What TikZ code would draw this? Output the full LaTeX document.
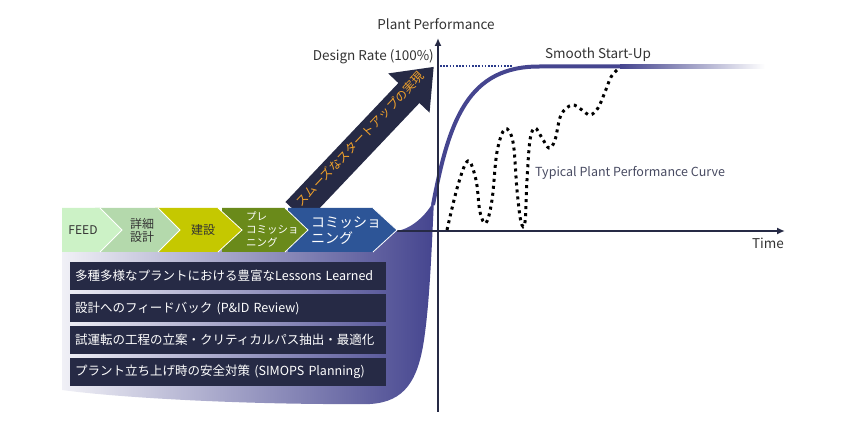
\documentclass[tikz,border=0pt]{standalone}
\usepackage{fontspec}
\setmainfont{Noto Sans CJK JP}
\usetikzlibrary{positioning,arrows.meta}
\definecolor{navy}{HTML}{262A45}
\definecolor{curveblue}{HTML}{45458F}
\definecolor{feedc}{HTML}{CCF2C6}
\definecolor{detailc}{HTML}{B4D9AC}
\definecolor{buildc}{HTML}{C5C800}
\definecolor{precomc}{HTML}{6A8A1A}
\definecolor{comc}{HTML}{2D5597}
\definecolor{arrowtxt}{HTML}{F2A22A}
\definecolor{labelc}{HTML}{333333}
\definecolor{dotblue}{HTML}{2A3A8A}
\tikzset{
  axisline/.style={navy,line width=1.8pt,-{Latex[length=8pt,width=7pt]}},
  phaseedge/.style={white,line width=0.8pt},
  phasetext/.style={font=\fontsize{12}{13}\selectfont,align=center,inner sep=0pt},
  lessonbox/.style={rectangle,fill=navy,text=white,anchor=north west,text width=306pt,inner xsep=5pt,inner ysep=0pt,minimum height=28pt,align=left,font=\fontsize{12.5}{14}\selectfont},
  plotlabel/.style={text=labelc,font=\fontsize{13.5}{15}\selectfont,inner sep=0pt}
}
\newcommand{\phasechev}[4]{%
  \fill[#4] (#1,208) -- (#2,208) -- (#3,230) -- (#2,252) -- (#1,252) -- cycle;
  \draw[phaseedge] (#2,208) -- (#3,230) -- (#2,252);}
\begin{document}
\begin{tikzpicture}[x=1pt,y=-1pt]
	\useasboundingbox (0,0) rectangle (847,430);
	\shade[left color=white!92!curveblue,middle color=curveblue!45,right color=curveblue] (62,230) -- (62,390) .. controls (120,398) and (250,405) .. (370,404) .. controls (405,402) and (418,380) .. (424,340) .. controls (430,300) and (432,240) .. (434,200) .. controls (430,210) and (415,228) .. (397,231) -- cycle;
	\draw[curveblue,line width=4pt] (433,205) .. controls (449,120) and (468,66) .. (540,66.5) -- (620,66.5);
	\shade[left color=curveblue,right color=white] (620,64.5) rectangle (765,68.5);
	\coordinate (ybot) at (438,412);
	\coordinate (ytop) at (438,38);
	\coordinate (xleft) at (397,231);
	\coordinate (xright) at (785,231);
	\draw[axisline] (ybot) -- (ytop);
	\draw[axisline] (xleft) -- (xright);
	\coordinate (rate) at (440,66);
	\coordinate (rateend) at (512,66);
	\draw[dotblue,line width=1.6pt,dash pattern=on 1.6pt off 1.6pt] (rate) -- (rateend);
	\draw[black,line width=3pt,dash pattern=on 3pt off 4pt] plot[smooth,tension=0.6] coordinates {(447,230) (458,185) (468,161) (476,180) (480,212) (486,223) (492,200) (497,152) (505,129) (513,142) (517,190) (521,222) (525,222) (527,180) (530,140) (535,128) (542,138) (549,148) (555,140) (561,115) (572,105) (582,110) (590,115) (598,108) (605,92) (611,77) (617,70)};
	\node[plotlabel] (yname) at (436,24) {Plant Performance};
	\node[plotlabel,anchor=east] (design) at (434,57) {Design Rate (100\%)};
	\node[plotlabel] (smooth) at (598,55) {Smooth Start-Up};
	\node[plotlabel,anchor=west,text=navy!85,font=\fontsize{12.5}{14}\selectfont] (typical) at (535,173) {Typical Plant Performance Curve};
	\node[plotlabel] (time) at (768,243) {Time};
	\begin{scope}[shift={(296,212)},rotate=46.5]
		\fill[navy] (0,-14.5) -- (164,-14.5) -- (164,-28.5) -- (200,0) -- (164,28.5) -- (164,14.5) -- (0,14.5) -- cycle;
	\end{scope}
	\node[rotate=46.5,text=arrowtxt,font=\fontsize{12}{12}\selectfont,inner sep=0pt] (smoothjp) at (360,139) {スムーズなスタートアップの実現};
	\phasechev{288}{373}{397}{comc}
	\phasechev{222}{285}{308}{precomc}
	\phasechev{155}{218}{242}{buildc}
	\phasechev{95}{158}{180}{detailc}
	\phasechev{62}{100}{122}{feedc}
	\node[phasetext,text=labelc] (feed) at (83,230) {FEED};
	\node[phasetext,text=labelc] (detail) at (142,230) {詳細\\設計};
	\node[phasetext,text=labelc] (build) at (203,230) {建設};
	\node[phasetext,text=white,anchor=west,align=left,font=\fontsize{10.5}{13}\selectfont] (precom) at (246,230) {プレ\\コミッショ\\ニング};
	\node[phasetext,text=white,anchor=west,align=left,font=\fontsize{14}{16}\selectfont] (com) at (311,231) {コミッショ\\ニング};
	\node[lessonbox] (lesson1) at (70,262) {多種多様なプラントにおける豊富なLessons Learned};
	\node[lessonbox,below=3.5pt of lesson1.south west,anchor=north west] (lesson2) {設計へのフィードバック (P\&ID Review)};
	\node[lessonbox,below=3.5pt of lesson2.south west,anchor=north west] (lesson3) {試運転の工程の立案・クリティカルパス抽出・最適化};
	\node[lessonbox,below=3.5pt of lesson3.south west,anchor=north west] (lesson4) {プラント立ち上げ時の安全対策 (SIMOPS Planning)};
\end{tikzpicture}
\end{document}
